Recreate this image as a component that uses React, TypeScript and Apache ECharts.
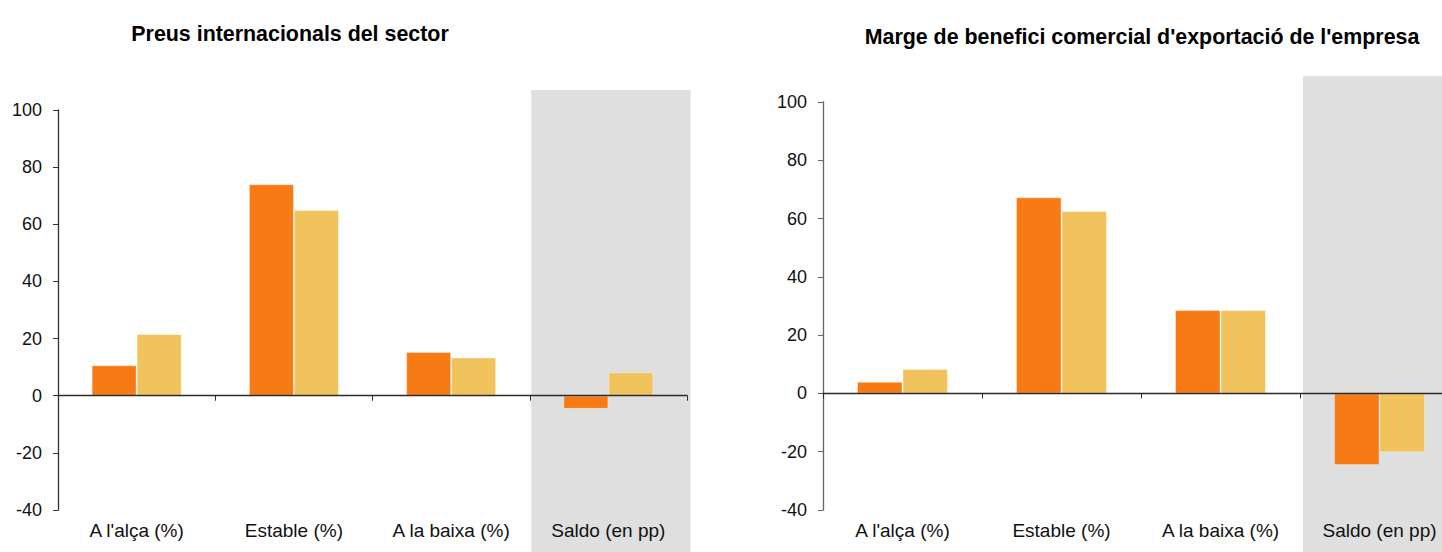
import React, { useEffect, useRef } from "react";
import * as echarts from "echarts";

const categories = ["A l'alça (%)", "Estable (%)", "A la baixa (%)", "Saldo (en pp)"];
const titles = ["Preus internacionals del sector", "Marge de benefici comercial d'exportació de l'empresa"];
const preusSerieA = [10.7, 74.0, 15.3, -4.6];
const preusSerieB = [21.6, 65.0, 13.4, 8.2];
const margeSerieA = [4.0, 67.3, 28.6, -24.6];
const margeSerieB = [8.4, 62.6, 28.6, -20.2];
const seriesNames = ["Període anterior", "Període actual"];
const yMin = -40;
const yMax = 100;
const yStep = 20;

const ORANGE = "#F77A15";
const YELLOW = "#F0C35D";
const BAND = "#DFDFDF";
const FONT = "'Liberation Sans', Arial, sans-serif";

const grids = [
  { left: 58, top: 110, width: 629, height: 400, bandTop: 90, bandOffset: 1.5, bandExtra: 2 },
  { left: 823, top: 102, width: 636, height: 408, bandTop: 76, bandOffset: 3, bandExtra: 4 },
];

export default function App() {
  const ref = useRef<HTMLDivElement>(null);
  useEffect(() => {
    if (!ref.current) return;
    const chart = echarts.init(ref.current, null, { renderer: "svg" });
    const xAxes: any[] = [];
    const yAxes: any[] = [];
    const series: any[] = [];
    const graphics: any[] = [];
    const data = [
      [preusSerieA, preusSerieB],
      [margeSerieA, margeSerieB],
    ];
    grids.forEach((g, i) => {
      const catW = g.width / categories.length;
      graphics.push({
        type: "rect",
        z: -10,
        shape: {
          x: g.left + 3 * catW + g.bandOffset,
          y: g.bandTop,
          width: catW + g.bandExtra,
          height: 552 - g.bandTop,
        },
        style: { fill: BAND },
        silent: true,
      });
      xAxes.push({
        gridIndex: i,
        type: "category",
        data: categories,
        axisLine: { onZero: true, lineStyle: { color: "#2a2a2a", width: 1.3 } },
        axisTick: { show: true, length: 5, lineStyle: { color: "#2a2a2a" } },
        axisLabel: { show: false },
        splitLine: { show: false },
        z: 5,
      });
      xAxes.push({
        gridIndex: i,
        type: "category",
        data: categories,
        position: "bottom",
        axisLine: { show: false, onZero: false },
        axisTick: { show: false },
        axisLabel: { show: true, fontSize: 19, color: "#111", fontFamily: FONT, margin: 11 },
        splitLine: { show: false },
      });
      yAxes.push({
        gridIndex: i,
        type: "value",
        min: yMin,
        max: yMax,
        interval: yStep,
        axisLine: { show: true, lineStyle: { color: i === 0 ? "#333" : "#666", width: 1.3 } },
        axisTick: { show: true, length: 5, lineStyle: { color: i === 0 ? "#333" : "#666" } },
        axisLabel: { fontSize: 18, color: "#111", fontFamily: FONT, margin: 16 },
        splitLine: { show: false },
      });
      [ORANGE, YELLOW].forEach((c, k) => {
        series.push({
          type: "bar",
          name: seriesNames[k],
          xAxisIndex: i * 2,
          yAxisIndex: i,
          data: data[i][k],
          barWidth: "28.6%",
          barGap: "0%",
          itemStyle: { color: c, borderColor: "rgba(255,255,255,0.35)", borderWidth: 1 },
          z: 3,
        });
      });
    });
    chart.setOption({
      animation: false,
      backgroundColor: "#fff",
      title: [
        {
          text: titles[0],
          left: 285,
          top: 18,
          textAlign: "center",
          textStyle: { fontSize: 21.4, fontWeight: "bold", color: "#000", fontFamily: FONT },
        },
        {
          text: titles[1],
          left: 1137,
          top: 21,
          textAlign: "center",
          textStyle: { fontSize: 21.4, fontWeight: "bold", color: "#000", fontFamily: FONT },
        },
      ],
      grid: grids.map((g) => ({
        left: g.left,
        top: g.top,
        width: g.width,
        height: g.height,
        containLabel: false,
        outerBoundsMode: "none",
      })),
      xAxis: xAxes,
      yAxis: yAxes,
      series,
      graphic: graphics,
    });
    return () => chart.dispose();
  }, []);
  return (
    <div
      ref={ref}
      style={{ position: "absolute", left: 0, top: 0, width: 1442, height: 552 }}
    />
  );
}
